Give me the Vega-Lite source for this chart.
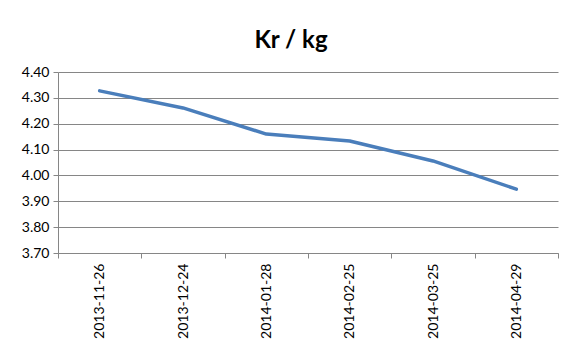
{
  "$schema": "https://vega.github.io/schema/vega-lite/v6.json",
  "width": 500,
  "height": 181,
  "autosize": {"type": "none"},
  "padding": {"left": 58, "top": 72, "right": 22, "bottom": 100},
  "background": "white",
  "title": {
    "text": "Kr / kg",
    "font": "Lato",
    "fontSize": 24,
    "fontWeight": "bold",
    "color": "#000000",
    "anchor": "middle",
    "dx": -17,
    "offset": 12
  },
  "data": {
    "values": [
      {"date": "2013-11-26", "price": 4.327},
      {"date": "2013-12-24", "price": 4.261},
      {"date": "2014-01-28", "price": 4.16},
      {"date": "2014-02-25", "price": 4.133},
      {"date": "2014-03-25", "price": 4.056},
      {"date": "2014-04-29", "price": 3.947}
    ]
  },
  "mark": {"type": "line", "color": "#4A7EBB", "strokeWidth": 3.5, "strokeCap": "round", "strokeJoin": "round"},
  "encoding": {
    "x": {
      "field": "date",
      "type": "ordinal",
      "bandPosition": 0.5,
      "scale": {"type": "band", "paddingInner": 0, "paddingOuter": 0},
      "axis": {
        "title": null,
        "labelAngle": -90,
        "labelFont": "Lato",
        "labelFontSize": 14,
        "labelColor": "#000000",
        "labelPadding": 5,
        "tickBand": "extent",
        "tickSize": 5,
        "tickColor": "#868686",
        "domainColor": "#868686",
        "grid": false
      }
    },
    "y": {
      "field": "price",
      "type": "quantitative",
      "scale": {"domain": [3.7, 4.4], "nice": false, "zero": false},
      "axis": {
        "title": null,
        "values": [3.7, 3.8, 3.9, 4.0, 4.1, 4.2, 4.3, 4.4],
        "format": ".2f",
        "labelFont": "Lato",
        "labelFontSize": 14,
        "labelColor": "#000000",
        "labelPadding": 4,
        "tickSize": 5,
        "tickColor": "#868686",
        "domainColor": "#868686",
        "gridColor": "#868686",
        "grid": true
      }
    }
  },
  "config": {"view": {"stroke": null}}
}
